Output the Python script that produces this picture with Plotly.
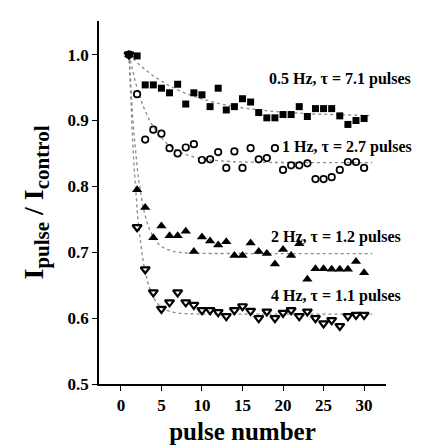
import numpy as np
import plotly.graph_objects as go

# pulse index and normalised current for each stimulation frequency
pulse = list(range(1, 31))

hz05 = [1.0, 0.998, 0.954, 0.954, 0.949, 0.942, 0.955, 0.925, 0.942, 0.939,
        0.921, 0.949, 0.916, 0.921, 0.933, 0.928, 0.912, 0.904, 0.904, 0.909,
        0.909, 0.921, 0.906, 0.918, 0.918, 0.918, 0.907, 0.894, 0.900, 0.903]
hz1 = [1.0, 0.940, 0.871, 0.886, 0.880, 0.858, 0.850, 0.859, 0.864, 0.840,
       0.841, 0.852, 0.828, 0.853, 0.828, 0.858, 0.841, 0.843, 0.858, 0.825,
       0.832, 0.832, 0.835, 0.811, 0.811, 0.814, 0.825, 0.837, 0.837, 0.828]
hz2 = [1.0, 0.795, 0.768, 0.722, 0.740, 0.725, 0.725, 0.732, 0.701, 0.723,
       0.717, 0.711, 0.716, 0.695, 0.695, 0.714, 0.701, 0.698, 0.682, 0.704,
       0.695, 0.713, 0.659, 0.675, 0.675, 0.674, 0.674, 0.674, 0.686, 0.669]
hz4 = [1.0, 0.738, 0.674, 0.639, 0.614, 0.624, 0.639, 0.624, 0.620, 0.612,
       0.612, 0.609, 0.603, 0.612, 0.618, 0.611, 0.600, 0.610, 0.600, 0.608,
       0.612, 0.603, 0.610, 0.600, 0.592, 0.597, 0.588, 0.603, 0.605, 0.605]

# single exponential fits: plateau and time constant (pulses)
fit_plateau = [0.906, 0.836, 0.698, 0.606]
fit_tau = [7.1, 2.7, 1.2, 1.1]

labels = ["0.5 Hz, τ = 7.1 pulses", "1 Hz, τ = 2.7 pulses",
          "2 Hz, τ = 1.2 pulses", "4 Hz, τ = 1.1 pulses"]
label_x = [18.0, 19.6, 18.3, 18.3]
label_y = [0.963, 0.859, 0.723, 0.633]

FONT = "Liberation Serif"

fig = go.Figure()

nfit = np.linspace(1, 31, 200)
for A, tau in zip(fit_plateau, fit_tau):
    fig.add_trace(go.Scatter(
        x=nfit, y=A + (1 - A) * np.exp(-(nfit - 1) / tau),
        mode="lines", line=dict(color="#8a8a8a", width=1.3, dash="dot"),
        hoverinfo="skip", showlegend=False))

fig.add_trace(go.Scatter(x=pulse, y=hz4, mode="markers",
                         marker=dict(symbol="triangle-down-open", size=8, color="black",
                                     line=dict(width=2.2, color="black")),
                         showlegend=False))
fig.add_trace(go.Scatter(x=pulse, y=hz2, mode="markers",
                         marker=dict(symbol="triangle-up", size=9, color="black"),
                         showlegend=False))
fig.add_trace(go.Scatter(x=pulse, y=hz1, mode="markers",
                         marker=dict(symbol="circle-open", size=6.5, color="black",
                                     line=dict(width=1.7, color="black")),
                         showlegend=False))
fig.add_trace(go.Scatter(x=pulse, y=hz05, mode="markers",
                         marker=dict(symbol="square", size=7, color="black"),
                         showlegend=False))

for t, xp, yp in zip(labels, label_x, label_y):
    fig.add_annotation(x=xp, y=yp, text="<b>" + t + "</b>",
                       showarrow=False, xanchor="left", yanchor="middle",
                       font=dict(family=FONT, size=16, color="black"))

ytitle = ("<b>I<sub><span style='font-size:21px'>pulse</span></sub> / "
          "I<sub><span style='font-size:21px'>control</span></sub></b>")

fig.update_layout(
    width=422, height=445,
    margin=dict(l=91, r=44, t=13, b=64),
    paper_bgcolor="white", plot_bgcolor="white",
    font=dict(family=FONT, color="black"),
    xaxis=dict(range=[-2.7, 32.7], tickvals=[0, 5, 10, 15, 20, 25, 30],
               ticktext=["<b>%d</b>" % v for v in [0, 5, 10, 15, 20, 25, 30]],
               showgrid=False, zeroline=False, showline=True, linecolor="black",
               linewidth=1.5, ticks="outside", ticklen=5, tickwidth=1.2,
               tickcolor="black", tickfont=dict(family=FONT, size=17),
               title=dict(text="<b>pulse number</b>", font=dict(family=FONT, size=25),
                          standoff=8)),
    yaxis=dict(range=[0.5, 1.051], tickvals=[0.5, 0.6, 0.7, 0.8, 0.9, 1.0],
               ticktext=["<b>%.1f</b>" % v for v in [0.5, 0.6, 0.7, 0.8, 0.9, 1.0]],
               showgrid=False, zeroline=False, showline=True, linecolor="black",
               linewidth=1.5, ticks="outside", ticklen=5, tickwidth=1.2,
               tickcolor="black", tickfont=dict(family=FONT, size=17),
               title=dict(text=ytitle, font=dict(family=FONT, size=28), standoff=16)),
)

fig.write_html("out.html")
